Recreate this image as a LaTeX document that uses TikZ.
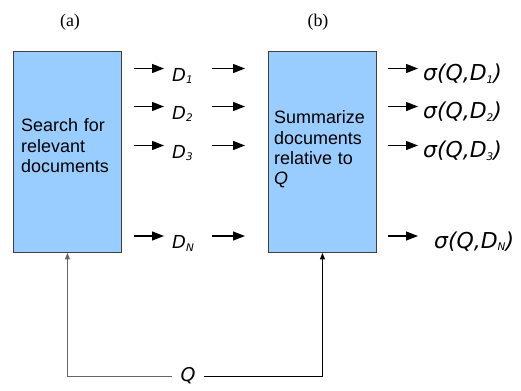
\documentclass[tikz,border=0pt]{standalone}
\usepackage{fontspec}
\setmainfont{Liberation Sans}
\newfontfamily\lserif{Liberation Serif}
\newfontfamily\dejav{DejaVu Sans}
\usetikzlibrary{arrows.meta}
\definecolor{boxblue}{RGB}{153,204,255}
\newcommand{\sbs}[1]{\raisebox{-2.5bp}{\fontsize{10.5}{10.5}\selectfont #1}}
\begin{document}
\begin{tikzpicture}[x=1bp,y=-1bp,
  blockbox/.style={draw=black!75, fill=boxblue, line width=0.9bp, minimum width=108bp, minimum height=201bp, inner sep=0pt, anchor=north west},
  boxtxt/.style={font=\fontsize{18}{20.5}\selectfont, align=left, inner sep=0pt, anchor=west, text width=100bp},
  dlab/.style={font=\dejav\fontsize{18}{18}\selectfont\itshape, inner sep=0pt, anchor=base west},
  slab/.style={font=\dejav\fontsize{22}{22}\selectfont\itshape, inner sep=0pt, anchor=base west},
  tlab/.style={font=\fontsize{18}{18}\selectfont\lserif, inner sep=0pt, anchor=base},
  qlab/.style={font=\dejav\fontsize{19}{19}\selectfont\itshape, inner xsep=8bp, inner ysep=0pt},
  arr/.style={line width=1.3bp, -{Triangle[length=12bp,width=9bp]}},
  qline/.style={line width=0.9bp, -{Triangle[length=6.5bp,width=5bp]}}
]
\useasboundingbox (0,0) rectangle (521,390);
% titles
\node[tlab] (ta) at (70,26) {(a)};
\node[tlab] (tb) at (318,26) {(b)};
% boxes
\node[blockbox] (A) at (13,51) {};
\node[blockbox] (B) at (268,51) {};
\node[boxtxt] (atext) at (21,146) {Search for\\relevant\\documents};
\node[boxtxt] (btext) at (274,149.5) {Summarize\\documents\\relative to\\\textit{Q}};
% rows
\coordinate (r1) at (0,68.5);
\coordinate (r2) at (0,106.5);
\coordinate (r3) at (0,145.5);
\coordinate (rN) at (0,236);
% D labels
\node[dlab] (d1) at (172,81) {D\sbs{1}};
\node[dlab] (d2) at (172,119) {D\sbs{2}};
\node[dlab] (d3) at (172,158) {D\sbs{3}};
\node[dlab] (dN) at (172,248.5) {D\sbs{N}};
% sigma labels
\node[slab] (s1) at (423,80.5) {σ(Q,D\sbs{1})};
\node[slab] (s2) at (423,118.5) {σ(Q,D\sbs{2})};
\node[slab] (s3) at (423,157.5) {σ(Q,D\sbs{3})};
\node[slab] (sN) at (434,248) {σ(Q,D\sbs{N})};
% arrows
\foreach \r/\d/\s/\g in {r1/d1/s1/5, r2/d2/s2/5, r3/d3/s3/5, rN/dN/sN/16}{
  \draw[arr, shorten <=12bp, shorten >=8bp] (A.east |- \r) -- (\d.west |- \r);
  \draw[arr, shorten >=23bp] ([xshift=-56bp]B.west |- \r) -- (B.west |- \r);
  \draw[arr, shorten <=11bp, shorten >=\g bp] (B.east |- \r) -- (\s.west |- \r);
}
% Q
\node[qlab] (q) at (188,376) {Q};
\draw[qline, color=black!60] (q.west) -| (A.south);
\draw[qline] (q.east) -| (B.south);
\end{tikzpicture}
\end{document}
